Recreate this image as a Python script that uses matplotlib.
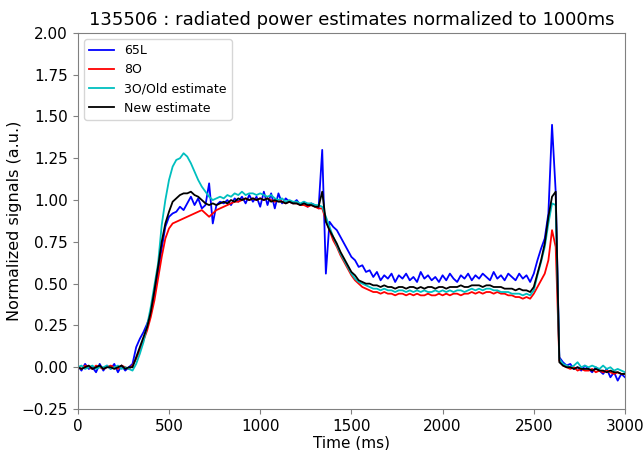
import numpy as np
import matplotlib
matplotlib.use("Agg")
import matplotlib.pyplot as plt

time_ms = list(range(0, 3001, 20))

sig_65L = [
    0.01, -0.02, 0.02, -0.01, 0.00, -0.03, 0.02, -0.02, 0.01, -0.01,
    0.02, -0.03, 0.01, -0.02, 0.00, 0.02, 0.12, 0.17, 0.21, 0.26,
    0.32, 0.44, 0.57, 0.71, 0.84, 0.90, 0.92, 0.93, 0.96, 0.94,
    0.98, 1.02, 0.97, 1.01, 0.95, 0.97, 1.10, 0.86, 0.97, 0.99,
    0.98, 1.00, 0.97, 1.01, 0.99, 1.02, 0.98, 1.03, 0.99, 1.02,
    0.96, 1.05, 0.97, 1.04, 0.95, 1.04, 0.98, 1.01, 0.99, 0.98,
    1.00, 0.97, 0.99, 0.96, 0.98, 0.97, 0.95, 1.30, 0.56, 0.87,
    0.84, 0.82, 0.78, 0.74, 0.70, 0.66, 0.64, 0.60, 0.61, 0.57,
    0.58, 0.54, 0.57, 0.52, 0.55, 0.53, 0.56, 0.51, 0.55, 0.53,
    0.56, 0.52, 0.54, 0.51, 0.57, 0.53, 0.55, 0.52, 0.54, 0.51,
    0.55, 0.52, 0.56, 0.53, 0.51, 0.55, 0.53, 0.56, 0.52, 0.55,
    0.53, 0.56, 0.54, 0.52, 0.57, 0.53, 0.55, 0.52, 0.56, 0.54,
    0.52, 0.56, 0.53, 0.55, 0.51, 0.56, 0.64, 0.71, 0.77, 0.92,
    1.45, 1.05, 0.06, 0.03, 0.01, 0.02, -0.01, 0.00, -0.02, 0.01,
    -0.01, -0.03, 0.00, -0.02, -0.04, -0.01, -0.06, -0.03, -0.08, -0.04,
    -0.06,
]

sig_8O = [
    0.00, -0.01, 0.01, 0.00, -0.01, 0.01, 0.00, -0.01, 0.00, 0.01,
    0.00, -0.01, 0.01, 0.00, -0.01, 0.01, 0.05, 0.10, 0.16, 0.22,
    0.30, 0.40, 0.53, 0.66, 0.77, 0.83, 0.86, 0.87, 0.88, 0.89,
    0.90, 0.91, 0.92, 0.93, 0.94, 0.92, 0.90, 0.92, 0.94, 0.95,
    0.96, 0.97, 0.98, 0.99, 0.99, 1.00, 1.01, 1.00, 1.01, 1.00,
    1.01, 1.00, 1.01, 1.00, 0.99, 1.00, 0.99, 0.98, 0.99, 0.98,
    0.98, 0.97, 0.97, 0.96, 0.97, 0.96, 0.95, 0.95, 0.88, 0.82,
    0.76, 0.72, 0.67, 0.63, 0.59, 0.55, 0.52, 0.50, 0.48, 0.47,
    0.46, 0.45, 0.45, 0.44, 0.45, 0.44, 0.44, 0.43, 0.44, 0.44,
    0.43, 0.44, 0.43, 0.44, 0.43, 0.43, 0.44, 0.43, 0.43, 0.44,
    0.43, 0.44, 0.43, 0.44, 0.44, 0.43, 0.44, 0.44, 0.45, 0.44,
    0.45, 0.44, 0.45, 0.45, 0.44, 0.45, 0.44, 0.44, 0.43, 0.43,
    0.42, 0.42, 0.41, 0.42, 0.41, 0.44, 0.48, 0.52, 0.56, 0.64,
    0.82, 0.72, 0.04, 0.01, 0.00, -0.01, 0.00, -0.02, -0.01, -0.02,
    -0.02, -0.01, -0.03, -0.02, -0.03, -0.02, -0.03, -0.04, -0.03, -0.04,
    -0.04,
]

sig_3O = [
    0.00, 0.01, -0.01, 0.00, 0.01, -0.01, 0.00, 0.00, 0.01, -0.01,
    0.00, 0.01, -0.01, 0.00, -0.01, -0.02, 0.02, 0.08, 0.15, 0.25,
    0.36, 0.49, 0.62, 0.85, 1.00, 1.12, 1.20, 1.24, 1.25, 1.28,
    1.26, 1.22, 1.17, 1.12, 1.08, 1.05, 1.02, 1.00, 1.01, 1.02,
    1.01, 1.03, 1.02, 1.04, 1.03, 1.05, 1.03, 1.04, 1.04, 1.03,
    1.04, 1.03, 1.02, 1.03, 1.01, 1.00, 1.01, 0.99, 1.00, 0.99,
    0.99, 0.98, 0.99, 0.98, 0.98, 0.97, 0.97, 0.96, 0.90, 0.84,
    0.78, 0.73, 0.68, 0.64, 0.60, 0.56, 0.53, 0.51, 0.50, 0.49,
    0.48, 0.47, 0.47, 0.46, 0.47, 0.46, 0.46, 0.45, 0.46, 0.46,
    0.45, 0.46, 0.45, 0.46, 0.45, 0.46, 0.45, 0.45, 0.46, 0.45,
    0.46, 0.45, 0.46, 0.45, 0.46, 0.46, 0.45, 0.46, 0.47, 0.46,
    0.47, 0.46, 0.47, 0.47, 0.46, 0.46, 0.45, 0.45, 0.45, 0.44,
    0.44, 0.44, 0.43, 0.44, 0.43, 0.46, 0.55, 0.63, 0.72, 0.86,
    0.98, 0.97, 0.05, 0.02, 0.01, 0.00, 0.01, 0.03, 0.00, 0.01,
    0.00, 0.01, 0.00, -0.01, 0.01, -0.01, 0.00, -0.02, -0.01, -0.02,
    -0.03,
]

sig_new = [
    0.00, -0.01, 0.00, 0.01, -0.01, 0.00, 0.01, -0.01, 0.00, 0.00,
    -0.01, 0.00, 0.01, -0.01, 0.00, 0.00, 0.06, 0.12, 0.18, 0.24,
    0.33, 0.46, 0.60, 0.75, 0.86, 0.93, 0.99, 1.01, 1.03, 1.04,
    1.04, 1.05, 1.03, 1.02, 1.00, 0.98, 0.97, 0.98, 0.97, 0.98,
    0.99, 0.98, 1.00, 0.99, 1.01, 1.00, 1.01, 1.00, 1.01, 1.00,
    1.01, 1.00, 1.01, 0.99, 1.00, 0.99, 0.99, 0.98, 0.99, 0.98,
    0.98, 0.97, 0.98, 0.97, 0.97, 0.96, 0.96, 1.05, 0.87, 0.82,
    0.78, 0.74, 0.69, 0.65, 0.61, 0.57, 0.55, 0.52, 0.51, 0.50,
    0.50, 0.49, 0.49, 0.48, 0.49, 0.48, 0.48, 0.47, 0.48, 0.48,
    0.47, 0.48, 0.48, 0.47, 0.48, 0.47, 0.48, 0.48, 0.47, 0.48,
    0.48, 0.47, 0.48, 0.48, 0.48, 0.49, 0.48, 0.48, 0.49, 0.49,
    0.49, 0.48, 0.49, 0.49, 0.48, 0.48, 0.48, 0.47, 0.47, 0.47,
    0.46, 0.47, 0.46, 0.46, 0.45, 0.48, 0.56, 0.64, 0.74, 0.90,
    1.02, 1.05, 0.03, 0.01, 0.00, 0.00, -0.01, 0.00, -0.01, -0.01,
    -0.01, -0.02, -0.01, -0.02, -0.02, -0.03, -0.02, -0.03, -0.03, -0.04,
    -0.04,
]

labels = ["65L", "8O", "3O/Old estimate", "New estimate"]
colors = ["b", "r", "c", "k"]
x_ticks = [0, 500, 1000, 1500, 2000, 2500, 3000]
y_ticks = [-0.25, 0.0, 0.25, 0.5, 0.75, 1.0, 1.25, 1.5, 1.75, 2.0]

fig = plt.figure(figsize=(6.43, 4.5), dpi=100)
ax = fig.add_axes([0.121, 0.091, 0.851, 0.836])

for sig, lab, col in zip([sig_65L, sig_8O, sig_3O, sig_new], labels, colors):
    ax.plot(time_ms, sig, color=col, lw=1.3, label=lab)

ax.set_xlim(0, 3000)
ax.set_ylim(-0.25, 2.0)
ax.set_xticks(x_ticks)
ax.set_yticks(y_ticks)
ax.set_yticklabels([f"{v:.2f}".replace("-", "\u2212") for v in y_ticks])
ax.tick_params(labelsize=11, color="#808080")
for s in ax.spines.values():
    s.set_color("#808080")
ax.set_xlabel("Time (ms)", fontsize=11, labelpad=1)
ax.set_ylabel("Normalized signals (a.u.)", fontsize=11.5, labelpad=0)
ax.set_title("135506 : radiated power estimates normalized to 1000ms", fontsize=13)
ax.legend(loc="upper left", fontsize=9)

fig.savefig("out.png", dpi=100)
